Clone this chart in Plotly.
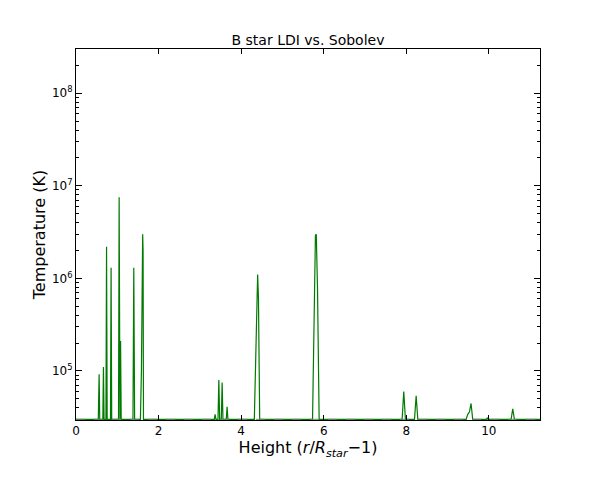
import plotly.graph_objects as go
import numpy as np

# LDI temperature profile vertices (height r/R_star - 1, temperature K)
ldi_height = [0.0,
              0.54, 0.56, 0.575,
              0.65, 0.665, 0.68,
              0.725, 0.74, 0.755,
              0.835, 0.85, 0.865,
              1.03, 1.045, 1.06,
              1.065, 1.08, 1.095,
              1.38, 1.40, 1.42,
              1.56, 1.585, 1.60, 1.615, 1.625, 1.635,
              3.35, 3.37, 3.39,
              3.44, 3.46, 3.48,
              3.52, 3.54, 3.56,
              3.64, 3.66, 3.68,
              4.32, 4.36, 4.38, 4.40, 4.42, 4.45,
              5.73, 5.77, 5.80, 5.82, 5.85, 5.89,
              7.90, 7.94, 7.98,
              8.20, 8.24, 8.28,
              9.45, 9.49, 9.53, 9.57, 9.61,
              9.94, 9.96, 9.98,
              10.54, 10.58, 10.62,
              11.24]
ldi_temp = [3e4,
            3e4, 9.2e4, 3e4,
            3e4, 1.1e5, 3e4,
            3e4, 2.2e6, 3e4,
            3e4, 1.3e6, 3e4,
            3e4, 7.5e6, 3e4,
            3e4, 2.1e5, 3e4,
            3e4, 1.3e6, 3e4,
            3e4, 1.0e5, 1.2e6, 3.0e6, 2.0e6, 3e4,
            3e4, 3.4e4, 3e4,
            3e4, 8.0e4, 3e4,
            3e4, 7.5e4, 3e4,
            3e4, 4.1e4, 3e4,
            3e4, 2.0e5, 9.0e5, 1.1e6, 6.0e5, 3e4,
            3e4, 5.0e5, 2.9e6, 3.0e6, 8.0e5, 3e4,
            3e4, 6.0e4, 3e4,
            3e4, 5.4e4, 3e4,
            3e4, 3.4e4, 3.6e4, 4.45e4, 3e4,
            3e4, 3.1e4, 3e4,
            3e4, 3.9e4, 3e4,
            3e4]

# Sobolev temperature (floor)
sob_height = [0.0, 11.24]
sob_temp = [3e4, 3e4]

x_ticks = [0, 2, 4, 6, 8, 10]
y_ticks = [1e5, 1e6, 1e7, 1e8]
y_ticktext = ["10<sup>5</sup>", "10<sup>6</sup>", "10<sup>7</sup>", "10<sup>8</sup>"]

fig = go.Figure()
fig.add_trace(go.Scatter(x=ldi_height, y=ldi_temp, mode="lines",
                         line=dict(color="#007a00", width=1.2), name="LDI"))
fig.add_trace(go.Scatter(x=sob_height, y=sob_temp, mode="lines",
                         line=dict(color="#6f7f6f", width=1, dash="dash"), name="Sobolev"))

font = "DejaVu Sans"
fig.update_layout(
    width=600, height=480,
    margin=dict(l=76, r=60, t=49, b=60),
    paper_bgcolor="white", plot_bgcolor="white",
    showlegend=False,
    font=dict(family=font, color="black", size=12),
    title=dict(text="B star LDI vs. Sobolev", x=(76 + 540) / 2 / 600, xanchor="center",
               y=1 - 40 / 480, yanchor="middle", font=dict(size=14, family=font)),
)
fig.update_xaxes(
    range=[0, 11.24], tickvals=x_ticks, ticktext=[str(v) for v in x_ticks],
    ticks="inside", ticklen=5, tickcolor="black", showline=True, linecolor="black",
    linewidth=1, mirror="allticks", showgrid=False, zeroline=False,
    title=dict(text="Height (<i>r</i>/<i>R</i><sub><i>star</i></sub>\u22121)", font=dict(size=16), standoff=4),
    tickfont=dict(size=12),
)
fig.update_yaxes(
    type="log", range=[np.log10(2.95e4), np.log10(3.0e8)],
    tickvals=y_ticks, ticktext=y_ticktext,
    ticks="inside", ticklen=6, tickcolor="black", showline=True, linecolor="black",
    linewidth=1, mirror="allticks", showgrid=False, zeroline=False,
    minor=dict(ticks="inside", ticklen=3, tickcolor="black", dtick="D1", showgrid=False),
    title=dict(text="Temperature (K)", font=dict(size=16), standoff=2),
    tickfont=dict(size=12),
)
fig.write_html("out.html")
